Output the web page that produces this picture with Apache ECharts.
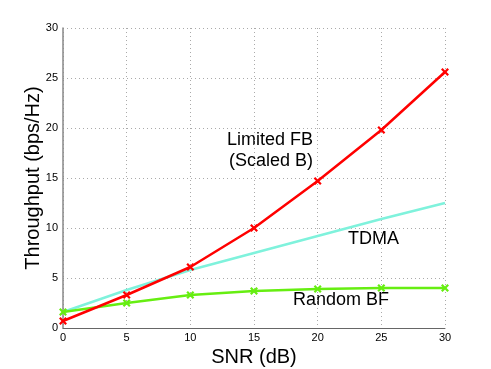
<!DOCTYPE html>
<html>
<head>
<meta charset="utf-8">
<script src="https://cdn.jsdelivr.net/npm/echarts@6/dist/echarts.min.js"></script>
<style>
  html, body { margin: 0; padding: 0; background: #fff; }
  #chart { width: 491px; height: 369px; }
</style>
</head>
<body>
<div id="chart"></div>
<script>
// SNR (dB) sample points
const snr = [0, 5, 10, 15, 20, 25, 30];
// throughput curves (bps/Hz)
const limitedFB = [0.7, 3.3, 6.1, 10.0, 14.7, 19.8, 25.6];
const tdma = [1.6, 3.8, 5.8, 7.5, 9.2, 10.9, 12.5];
const randomBF = [1.6, 2.5, 3.3, 3.7, 3.9, 4.0, 4.0];

const xMark = 'path://M2,0 L5,3 L8,0 L10,2 L7,5 L10,8 L8,10 L5,7 L2,10 L0,8 L3,5 L0,2 Z';
const font = 'Liberation Sans, Arial, sans-serif';

function pairs(ys) {
  return snr.map((x, i) => [x, ys[i]]);
}

const chart = echarts.init(document.getElementById('chart'));
const gridLine = { show: true, lineStyle: { color: '#aaa', type: [1, 3], width: 1 } };
const option = {
  animation: false,
  grid: { left: 63, right: 46, top: 28, bottom: 41, outerBoundsMode: 'none', containLabel: false },
  xAxis: {
    type: 'value', min: 0, max: 30, interval: 5,
    name: 'SNR (dB)', nameLocation: 'middle', nameGap: 19,
    nameTextStyle: { fontSize: 20, color: '#000', fontFamily: font },
    axisLine: { show: true, lineStyle: { color: '#666', width: 1 } },
    axisTick: { show: false },
    axisLabel: { fontSize: 11, color: '#000', fontFamily: font, margin: 4 },
    splitLine: gridLine
  },
  yAxis: {
    type: 'value', min: 0, max: 30, interval: 5,
    name: 'Throughput (bps/Hz)', nameLocation: 'middle', nameGap: 20,
    nameMoveOverlap: false,
    nameTextStyle: { fontSize: 20, color: '#000', fontFamily: font },
    axisLine: { show: true, lineStyle: { color: '#888', width: 1.5 } },
    axisTick: { show: false },
    axisLabel: { fontSize: 11, color: '#000', fontFamily: font, margin: 5 },
    splitLine: gridLine
  },
  series: [
    {
      name: 'TDMA', type: 'line', data: pairs(tdma), showSymbol: false,
      lineStyle: { color: '#7ff2dc', width: 2.5 }, z: 2
    },
    {
      name: 'Random BF', type: 'line', data: pairs(randomBF),
      symbol: xMark, symbolSize: 8,
      itemStyle: { color: '#66ee11' },
      lineStyle: { color: '#66ee11', width: 2.5 }, z: 3
    },
    {
      name: 'Limited FB', type: 'line', data: pairs(limitedFB),
      symbol: xMark, symbolSize: 8,
      itemStyle: { color: '#ff0000' },
      lineStyle: { color: '#ff0000', width: 2.5 }, z: 4
    }
  ],
  graphic: [
    { type: 'text', left: 227, top: 131, style: { text: 'Limited FB', fontSize: 18, fill: '#000', fontFamily: font } },
    { type: 'text', left: 229, top: 152, style: { text: '(Scaled B)', fontSize: 18, fill: '#000', fontFamily: font } },
    { type: 'text', left: 348, top: 230, style: { text: 'TDMA', fontSize: 18, fill: '#000', fontFamily: font } },
    { type: 'text', left: 293, top: 291, style: { text: 'Random BF', fontSize: 18, fill: '#000', fontFamily: font } }
  ]
};
chart.setOption(option);
</script>
</body>
</html>
